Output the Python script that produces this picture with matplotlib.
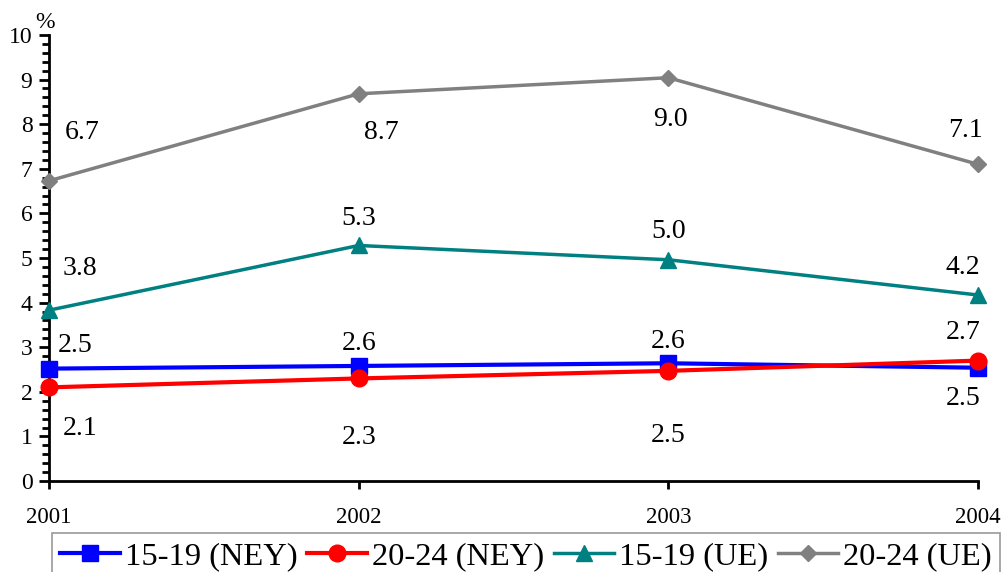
import matplotlib
matplotlib.use("Agg")
import matplotlib.pyplot as plt
from matplotlib.ticker import MultipleLocator

years = [2001, 2002, 2003, 2004]
ney_15_19 = [2.52, 2.58, 2.64, 2.54]
ney_20_24 = [2.10, 2.30, 2.47, 2.70]
ue_15_19 = [3.83, 5.28, 4.96, 4.17]
ue_20_24 = [6.73, 8.68, 9.04, 7.10]

series_names = ['15-19 (NEY)', '20-24 (NEY)', '15-19 (UE)', '20-24 (UE)']

plt.rcParams['font.family'] = ['Liberation Serif', 'DejaVu Serif']

fig = plt.figure(figsize=(10.03, 5.72), dpi=100)
ax = fig.add_axes([0.049, 0.159, 0.926, 0.780])

# (values, colour, marker, markersize, linewidth, label offsets in pixels)
styles = [
    (ney_15_19, '#0000ff', 's', 11, 3.0, [(26, 23), (0, 22), (0, 22), (-15, -31)]),
    (ney_20_24, '#ff0000', 'o', 12, 3.0, [(31, -41), (0, -59), (0, -65), (-15, 28)]),
    (ue_15_19, '#008080', '^', 11, 2.5, [(31, 42), (0, 27), (0, 28), (-15, 28)]),
    (ue_20_24, '#808080', 'D', 8, 2.5, [(33, 48), (23, -39), (2, -42), (-12, 34)]),
]

for (vals, col, mk, ms, lw, offs), name in zip(styles, series_names):
    ax.plot(years, vals, color=col, marker=mk, markersize=ms, linewidth=lw,
            label=name, clip_on=False, zorder=3)
    for x, y, off in zip(years, vals, offs):
        ax.annotate(f"{y:.1f}", (x, y), xytext=off, textcoords='offset pixels',
                    ha='center', va='center', fontsize=20)

ax.set_xlim(2001, 2004)
ax.set_ylim(0, 10)
ax.set_xticks(years)
ax.set_xticklabels([str(y) for y in years])
ax.yaxis.set_major_locator(MultipleLocator(1))
ax.yaxis.set_minor_locator(MultipleLocator(0.2))

for s in ['top', 'right']:
    ax.spines[s].set_visible(False)
for s in ['left', 'bottom']:
    ax.spines[s].set_linewidth(2)

ax.tick_params(axis='y', which='major', direction='out', length=7, width=2,
               labelsize=17, pad=5)
ax.tick_params(axis='y', which='minor', direction='out', length=5, width=2)
ax.tick_params(axis='x', which='major', direction='out', length=6, width=2,
               labelsize=16.5, pad=13)

ax.text(-0.005, 1.005, '%', transform=ax.transAxes, fontsize=17,
        ha='center', va='bottom')

leg = fig.legend(loc='upper center', bbox_to_anchor=(0.524, 0.068), ncol=4,
                 fontsize=23.4, frameon=True, fancybox=False, edgecolor='#808080',
                 handlelength=1.85, handletextpad=0.15, columnspacing=0.3,
                 borderpad=0.25, borderaxespad=0)
leg.get_frame().set_linewidth(1.2)

fig.savefig('out.png', dpi=100)
